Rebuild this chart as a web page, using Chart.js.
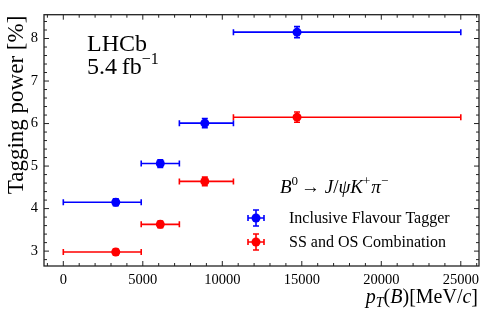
<!DOCTYPE html>
<html>
<head>
<meta charset="utf-8">
<script src="https://cdn.jsdelivr.net/npm/chart.js@4/dist/chart.umd.min.js"></script>
<style>
  html, body { margin: 0; padding: 0; background: #ffffff; }
  #wrap { width: 489px; height: 321px; position: relative; }
</style>
</head>
<body>
<div id="wrap"><canvas id="c" width="489" height="321"></canvas></div>
<script>
// ---- data ----
const binLow    = [0, 4900, 7300, 10700];
const binHigh   = [4900, 7300, 10700, 25000];
const binCenter = [3300, 6100, 8900, 14700];
const inclusiveTP  = [4.15, 5.06, 6.01, 8.15];
const inclusiveErr = [0.08, 0.09, 0.11, 0.13];
const ssosTP  = [2.98, 3.63, 4.64, 6.15];
const ssosErr = [0.07, 0.08, 0.10, 0.12];
const xTicks = [0, 5000, 10000, 15000, 20000, 25000];
const yTicks = [3, 4, 5, 6, 7, 8];
const seriesNames = ['Inclusive Flavour Tagger', 'SS and OS Combination'];

const SERIF = '"Liberation Serif", "DejaVu Serif", serif';
const BLUE = '#0000ff', RED = '#ff0000';

function pts(ys, errs) {
  return binCenter.map((x, i) => ({x: x, y: ys[i], xl: binLow[i], xh: binHigh[i], ye: errs[i]}));
}

function drawRich(ctx, parts, x, y, align) {
  let w = 0;
  parts.forEach(p => {
    ctx.font = (p.italic ? 'italic ' : '') + p.size + 'px ' + SERIF;
    p.w = ctx.measureText(p.t).width + (p.sp || 0);
    w += p.w;
  });
  let cx = align === 'right' ? x - w : x;
  parts.forEach(p => {
    ctx.font = (p.italic ? 'italic ' : '') + p.size + 'px ' + SERIF;
    ctx.fillText(p.t, cx, y + (p.dy || 0));
    cx += p.w;
  });
}

const errorBars = {
  id: 'errorBars',
  beforeDatasetsDraw(chart) {
    const ctx = chart.ctx, xs = chart.scales.x, ys = chart.scales.y;
    ctx.save();
    chart.data.datasets.forEach(ds => {
      ctx.strokeStyle = ds.borderColor;
      ctx.lineWidth = 1.6;
      ds.data.forEach(d => {
        const px = xs.getPixelForValue(d.x), py = ys.getPixelForValue(d.y);
        const x1 = xs.getPixelForValue(d.xl), x2 = xs.getPixelForValue(d.xh);
        const y1 = ys.getPixelForValue(d.y - d.ye), y2 = ys.getPixelForValue(d.y + d.ye);
        ctx.beginPath();
        ctx.moveTo(x1, py); ctx.lineTo(x2, py);
        ctx.moveTo(x1, py - 3); ctx.lineTo(x1, py + 3);
        ctx.moveTo(x2, py - 3); ctx.lineTo(x2, py + 3);
        ctx.moveTo(px, y1); ctx.lineTo(px, y2);
        ctx.moveTo(px - 3, y1); ctx.lineTo(px + 3, y1);
        ctx.moveTo(px - 3, y2); ctx.lineTo(px + 3, y2);
        ctx.stroke();
      });
    });
    ctx.restore();
  }
};

const frameAndText = {
  id: 'frameAndText',
  afterDraw(chart) {
    const ctx = chart.ctx, a = chart.chartArea, xs = chart.scales.x, ys = chart.scales.y;
    ctx.save();
    ctx.strokeStyle = '#222222';
    ctx.lineWidth = 1.3;
    ctx.strokeRect(a.left, a.top, a.right - a.left, a.bottom - a.top);
    ctx.lineWidth = 1;
    ctx.beginPath();
    for (let v = -1000; v <= 26000; v += 1000) {
      const p = xs.getPixelForValue(v);
      if (p <= a.left + 0.5 || p >= a.right - 0.5) continue;
      const len = (v % 5000 === 0) ? 5 : 3;
      ctx.moveTo(p, a.bottom); ctx.lineTo(p, a.bottom - len);
      ctx.moveTo(p, a.top); ctx.lineTo(p, a.top + len);
    }
    for (let k = 13; k <= 43; k++) {
      const v = k / 5;
      const p = ys.getPixelForValue(v);
      if (p <= a.top + 0.5 || p >= a.bottom - 0.5) continue;
      const len = (k % 5 === 0) ? 5 : 3;
      ctx.moveTo(a.left, p); ctx.lineTo(a.left + len, p);
      ctx.moveTo(a.right, p); ctx.lineTo(a.right - len, p);
    }
    ctx.stroke();

    ctx.fillStyle = '#000000';
    ctx.textBaseline = 'alphabetic';
    ctx.save();
    ctx.translate(23, a.top + 1);
    ctx.rotate(-Math.PI / 2);
    ctx.font = '23px ' + SERIF;
    ctx.textAlign = 'right';
    ctx.fillText('Tagging power [%]', 0, 0);
    ctx.restore();
    ctx.textAlign = 'left';

    drawRich(ctx, [
      {t: 'p', size: 20, italic: true},
      {t: 'T', size: 14, italic: true, dy: 4},
      {t: '(', size: 20},
      {t: 'B', size: 20, italic: true},
      {t: ')[MeV/', size: 20},
      {t: 'c', size: 20, italic: true},
      {t: ']', size: 20}
    ], a.right - 1, 303, 'right');

    ctx.font = '24px ' + SERIF;
    ctx.fillText('LHCb', 87, 51);
    drawRich(ctx, [
      {t: '5.4\u2009fb', size: 24},
      {t: '\u22121', size: 16, dy: -10}
    ], 87, 74, 'left');

    drawRich(ctx, [
      {t: 'B', size: 19, italic: true},
      {t: '0', size: 13, dy: -8, sp: 3},
      {t: '\u2192 ', size: 19},
      {t: 'J', size: 19, italic: true},
      {t: '/', size: 19},
      {t: '\u03c8K', size: 19, italic: true},
      {t: '+', size: 13, dy: -8, sp: 1},
      {t: '\u03c0', size: 19, italic: true},
      {t: '\u2212', size: 13, dy: -8}
    ], 280, 193, 'left');

    const entries = [[BLUE, seriesNames[0], 218], [RED, seriesNames[1], 242]];
    entries.forEach(([col, label, yy]) => {
      const xx = 256;
      ctx.strokeStyle = col; ctx.fillStyle = col; ctx.lineWidth = 1.6;
      ctx.beginPath();
      ctx.moveTo(xx - 8, yy); ctx.lineTo(xx + 8, yy);
      ctx.moveTo(xx - 8, yy - 3); ctx.lineTo(xx - 8, yy + 3);
      ctx.moveTo(xx + 8, yy - 3); ctx.lineTo(xx + 8, yy + 3);
      ctx.moveTo(xx, yy - 8); ctx.lineTo(xx, yy + 8);
      ctx.moveTo(xx - 3, yy - 8); ctx.lineTo(xx + 3, yy - 8);
      ctx.moveTo(xx - 3, yy + 8); ctx.lineTo(xx + 3, yy + 8);
      ctx.stroke();
      ctx.beginPath(); ctx.arc(xx, yy, 4.5, 0, Math.PI * 2); ctx.fill();
      ctx.fillStyle = '#000000';
      ctx.font = '16px ' + SERIF;
      ctx.textBaseline = 'middle';
      ctx.fillText(label, 289, yy + 1);
      ctx.textBaseline = 'alphabetic';
    });
    ctx.restore();
  }
};

new Chart(document.getElementById('c'), {
  type: 'scatter',
  data: {
    datasets: [
      {label: seriesNames[0], data: pts(inclusiveTP, inclusiveErr), backgroundColor: BLUE, borderColor: BLUE, pointRadius: 4.5, pointBorderWidth: 0},
      {label: seriesNames[1], data: pts(ssosTP, ssosErr), backgroundColor: RED, borderColor: RED, pointRadius: 4.5, pointBorderWidth: 0}
    ]
  },
  options: {
    responsive: false,
    animation: false,
    devicePixelRatio: 1,
    layout: {padding: {left: 0, right: 10, top: 8, bottom: 0}},
    plugins: {legend: {display: false}, tooltip: {enabled: false}},
    scales: {
      x: {
        type: 'linear', min: -1214, max: 26145,
        grid: {display: false, drawTicks: false},
        border: {display: false},
        afterBuildTicks: s => { s.ticks = xTicks.map(v => ({value: v})); },
        afterFit: s => { s.height = 55; },
        ticks: {padding: 5, color: '#000', font: {family: SERIF, size: 14.5}, maxRotation: 0,
                callback: v => String(v)}
      },
      y: {
        type: 'linear', min: 2.65, max: 8.56,
        grid: {display: false, drawTicks: false},
        border: {display: false},
        afterBuildTicks: s => { s.ticks = yTicks.map(v => ({value: v})); },
        afterFit: s => { s.width = 44; },
        ticks: {padding: 6, color: '#000', font: {family: SERIF, size: 14.5},
                callback: v => String(v)}
      }
    }
  },
  plugins: [errorBars, frameAndText]
});
</script>
</body>
</html>
